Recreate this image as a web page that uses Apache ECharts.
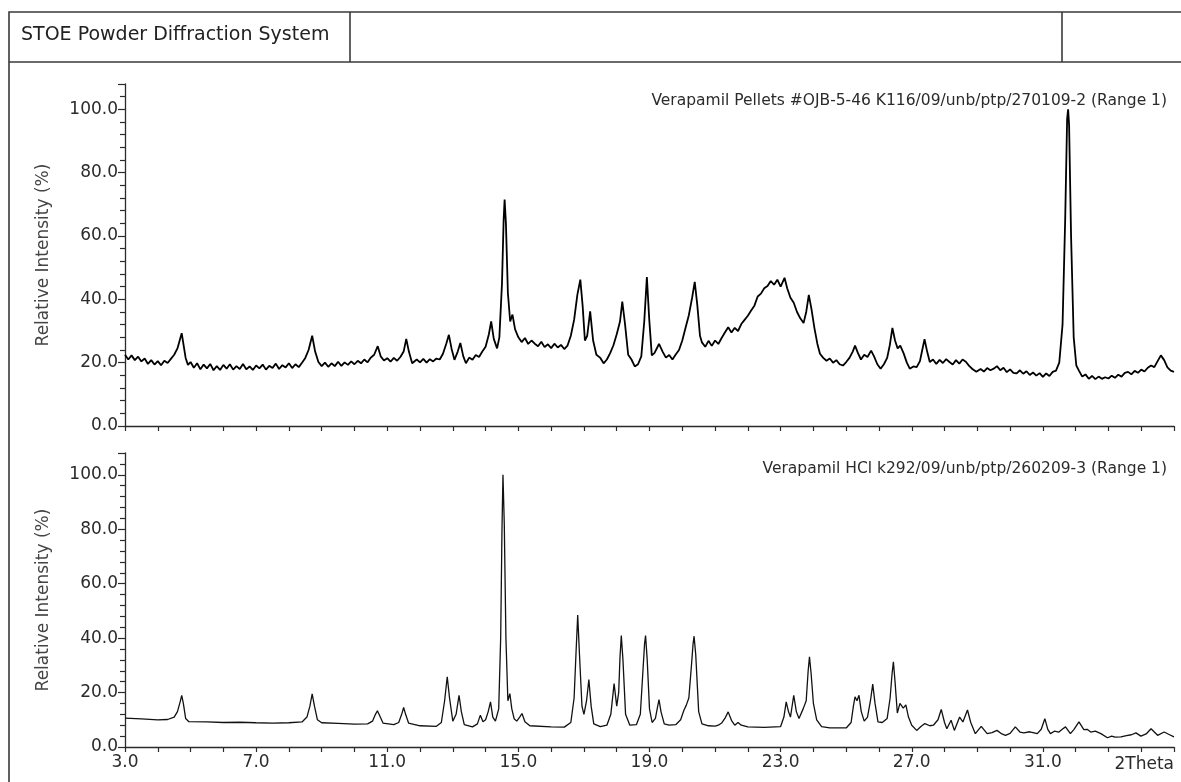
<!DOCTYPE html>
<html>
<head>
<meta charset="utf-8">
<script src="https://cdn.jsdelivr.net/npm/echarts@6/dist/echarts.min.js"></script>
<style>
  html, body { margin: 0; padding: 0; background: #fff; }
  #chart { width: 1181px; height: 782px; }
</style>
</head>
<body>
<div id="chart"></div>
<script>
// scan labels
const headerText = 'STOE Powder Diffraction System';
const pelletsLabel = 'Verapamil Pellets #OJB-5-46 K116/09/unb/ptp/270109-2 (Range 1)';
const hclLabel = 'Verapamil HCl k292/09/unb/ptp/260209-3 (Range 1)';
const yAxisTitle = 'Relative Intensity (%)';

// axis ticks
const xLabelled = [3, 7, 11, 15, 19, 23, 27, 31];
const xEndLabel = '2Theta';
const yLabelled = [0, 20, 40, 60, 80, 100];

// [2theta, relative intensity %] - pellets (top)
const pelletsScan = [
  [3.0,22.5],[3.1,21],[3.2,22.3],[3.3,20.8],[3.4,21.9],[3.5,20.4],[3.6,21.3],[3.7,19.6],[3.8,20.8],[3.9,19.4],
  [4.0,20.5],[4.1,19.2],[4.2,20.6],[4.3,19.9],[4.4,21.2],[4.5,22.5],[4.6,24.5],[4.68,27.5],[4.73,29.3],[4.78,26],
  [4.85,21.5],[4.92,19.3],[5.0,20.2],[5.1,18.4],[5.2,19.8],[5.3,17.9],[5.4,19.4],[5.5,18.2],[5.6,19.6],[5.7,17.6],
  [5.8,18.9],[5.9,17.7],[6.0,19.3],[6.1,18.1],[6.2,19.5],[6.3,17.8],[6.4,18.9],[6.5,18.0],[6.6,19.6],[6.7,17.9],
  [6.8,18.8],[6.9,17.7],[7.0,19.1],[7.1,18.2],[7.2,19.4],[7.3,17.8],[7.4,19.0],[7.5,18.3],[7.6,19.7],[7.7,18.0],
  [7.8,19.2],[7.9,18.5],[8.0,19.8],[8.1,18.3],[8.2,19.5],[8.3,18.6],[8.4,20.0],[8.5,21.5],[8.6,24.0],[8.71,28.5],
  [8.8,23.5],[8.9,20.2],[9.0,18.9],[9.1,20.0],[9.2,18.7],[9.3,19.8],[9.4,18.9],[9.5,20.3],[9.6,19.0],[9.7,20.1],
  [9.8,19.3],[9.9,20.4],[10.0,19.5],[10.1,20.6],[10.2,19.8],[10.3,21.0],[10.4,20.1],[10.5,21.6],[10.6,22.5],[10.71,25.2],
  [10.8,22.0],[10.9,20.7],[11.0,21.4],[11.1,20.3],[11.2,21.5],[11.3,20.6],[11.4,21.8],[11.5,23.5],[11.58,27.5],[11.66,23.5],
  [11.76,19.8],[11.9,21.0],[12.0,20.1],[12.1,21.2],[12.2,20.0],[12.3,21.1],[12.4,20.4],[12.5,21.3],[12.6,21.0],[12.7,22.8],
  [12.8,26.0],[12.88,28.8],[12.96,24.5],[13.05,20.9],[13.15,23.5],[13.23,26.2],[13.32,22.0],[13.4,19.8],[13.5,21.6],[13.6,20.9],
  [13.7,22.4],[13.8,21.8],[13.9,23.5],[14.0,25.0],[14.1,29.0],[14.17,33.0],[14.25,27.5],[14.35,24.5],[14.42,28],[14.5,45],
  [14.55,65],[14.58,71.5],[14.62,64],[14.68,42],[14.75,33],[14.82,35.2],[14.9,30.5],[15.0,28.0],[15.1,26.5],[15.2,27.8],
  [15.3,25.9],[15.4,27.0],[15.5,26.0],[15.6,25.2],[15.7,26.6],[15.8,24.9],[15.9,25.8],[16.0,24.6],[16.1,26.0],[16.2,24.8],
  [16.3,25.6],[16.4,24.3],[16.5,25.4],[16.6,28.5],[16.7,33.5],[16.8,41.5],[16.89,46.2],[16.96,38],[17.03,27],[17.1,28.5],
  [17.19,36.2],[17.28,27],[17.38,22.5],[17.5,21.5],[17.6,19.8],[17.7,21.0],[17.8,23.0],[17.9,25.5],[18.0,29.0],[18.1,33],
  [18.17,39.3],[18.25,32.5],[18.35,22.5],[18.45,21.0],[18.55,18.8],[18.65,19.5],[18.75,22.0],[18.84,33],[18.92,47],[18.99,34],
  [19.07,22.3],[19.15,23.0],[19.29,25.9],[19.4,23.5],[19.5,21.6],[19.6,22.4],[19.7,21.0],[19.8,22.6],[19.9,24.0],[20.0,27.0],
  [20.1,31.0],[20.2,35.0],[20.3,40.5],[20.38,45.5],[20.46,38],[20.54,28.5],[20.6,26.4],[20.7,25.0],[20.8,26.9],[20.9,25.3],
  [21.0,27.0],[21.1,25.9],[21.2,27.8],[21.3,29.5],[21.4,31.2],[21.5,29.5],[21.6,31.0],[21.7,30.0],[21.8,32.2],[21.9,33.5],
  [22.0,34.8],[22.1,36.5],[22.2,38.0],[22.3,40.9],[22.4,41.8],[22.5,43.5],[22.6,44.2],[22.7,45.8],[22.8,44.6],[22.9,46.2],
  [23.0,44.0],[23.12,46.8],[23.2,43.5],[23.3,40.5],[23.4,38.9],[23.5,36.0],[23.6,34.0],[23.7,32.5],[23.78,36],[23.86,41.4],
  [23.94,37],[24.03,31],[24.12,26],[24.2,22.8],[24.3,21.5],[24.4,20.6],[24.5,21.3],[24.6,20.0],[24.7,20.8],[24.8,19.5],
  [24.9,19.1],[25.0,20.2],[25.1,21.5],[25.2,23.5],[25.27,25.4],[25.36,23.0],[25.45,21.0],[25.55,22.5],[25.65,21.8],[25.76,23.8],
  [25.85,22.0],[25.95,19.5],[26.05,18.1],[26.15,19.5],[26.25,21.5],[26.33,25.5],[26.41,31],[26.49,27],[26.57,24.5],[26.65,25.4],
  [26.75,23.0],[26.85,20.0],[26.94,18.1],[27.05,18.8],[27.15,18.6],[27.25,20.5],[27.32,24],[27.39,27.4],[27.47,23.5],[27.55,20.2],
  [27.65,21.0],[27.75,19.6],[27.85,20.9],[27.95,19.9],[28.05,21.1],[28.15,20.2],[28.25,19.4],[28.35,20.8],[28.45,19.7],[28.55,21.0],
  [28.65,20.3],[28.75,19.0],[28.85,18.0],[28.97,17.1],[29.1,18.0],[29.2,17.2],[29.3,18.3],[29.4,17.6],[29.5,18.1],[29.6,18.9],
  [29.7,17.6],[29.8,18.4],[29.9,17.0],[30.0,17.9],[30.1,16.8],[30.2,16.6],[30.3,17.6],[30.4,16.5],[30.5,17.3],[30.6,16.1],
  [30.7,16.9],[30.8,15.9],[30.9,16.7],[31.0,15.5],[31.1,16.6],[31.2,15.8],[31.3,17.1],[31.4,17.5],[31.5,20.0],[31.6,32],
  [31.68,65],[31.74,97],[31.77,100],[31.8,95],[31.86,60],[31.94,28],[32.02,19.1],[32.1,17.5],[32.2,15.6],[32.3,16.3],
  [32.4,14.9],[32.5,15.8],[32.6,14.8],[32.7,15.6],[32.8,14.9],[32.9,15.4],[33.0,15.0],[33.1,15.9],[33.2,15.2],[33.3,16.2],
  [33.4,15.6],[33.5,16.8],[33.6,17.1],[33.7,16.3],[33.8,17.4],[33.9,16.8],[34.0,17.8],[34.1,17.2],[34.2,18.4],[34.3,19.1],
  [34.4,18.6],[34.5,20.5],[34.6,22.3],[34.7,20.8],[34.8,18.5],[34.9,17.5],[35.0,17.1]
];

// [2theta, relative intensity %] - verapamil HCl reference (bottom)
const hclScan = [
  [3.0,10.6],[3.5,10.3],[4.0,10.0],[4.3,10.1],[4.5,11.0],[4.6,13.0],[4.68,16.5],[4.73,19.0],[4.78,16],[4.85,10.5],
  [4.95,9.3],[5.5,9.2],[6.0,9.0],[6.5,9.1],[7.0,8.9],[7.5,8.8],[8.0,8.9],[8.4,9.2],[8.55,11],[8.64,15],
  [8.71,19.5],[8.78,15],[8.87,10],[9.0,8.9],[9.5,8.7],[10.0,8.4],[10.4,8.5],[10.55,9.5],[10.64,12],[10.7,13.3],
  [10.77,11.5],[10.87,8.8],[11.2,8.2],[11.35,9.0],[11.44,12],[11.5,14.5],[11.56,12],[11.65,8.8],[12.0,7.8],[12.5,7.6],
  [12.65,9.0],[12.75,17],[12.83,25.8],[12.9,18],[13.0,9.5],[13.1,12],[13.19,19.0],[13.26,13],[13.35,8.2],[13.6,7.4],
  [13.75,8.5],[13.84,11.7],[13.92,9.3],[14.0,10],[14.08,13],[14.15,16.6],[14.22,11],[14.3,9.5],[14.4,14],[14.46,40],
  [14.5,80],[14.53,100],[14.57,82],[14.62,40],[14.68,17],[14.74,19.6],[14.8,14],[14.87,10.4],[14.95,9.5],[15.04,11],
  [15.11,12.3],[15.2,9.3],[15.35,7.8],[16.0,7.4],[16.4,7.3],[16.6,9],[16.7,18],[16.76,35],[16.81,48.5],[16.86,35],
  [16.94,15],[17.0,12],[17.08,17],[17.15,24.8],[17.22,15],[17.3,8.5],[17.5,7.5],[17.7,8.0],[17.82,12],[17.92,23.3],
  [18.0,15],[18.06,20],[18.1,33],[18.14,40.9],[18.19,32],[18.27,12],[18.4,8.0],[18.6,8.2],[18.72,12],[18.8,28],
  [18.85,38],[18.88,40.9],[18.93,32],[19.0,14],[19.08,9.0],[19.18,10.5],[19.25,15],[19.29,17.4],[19.35,13],[19.45,8.5],
  [19.6,8.0],[19.8,8.2],[19.95,10],[20.05,13.5],[20.12,15.3],[20.2,18],[20.28,30],[20.33,38],[20.36,40.7],[20.41,34],
  [20.5,13],[20.6,8.5],[20.8,7.8],[21.0,7.7],[21.1,8.0],[21.2,8.8],[21.3,10.5],[21.4,12.9],[21.5,9.8],[21.6,8.0],
  [21.7,9.0],[21.8,8.0],[22.0,7.4],[22.5,7.2],[23.0,7.5],[23.1,11],[23.17,16.6],[23.24,13],[23.3,11],[23.4,19],
  [23.48,13],[23.56,10.5],[23.69,14.1],[23.78,17],[23.84,28],[23.88,33.1],[23.93,27],[24.0,16],[24.1,10],[24.25,7.5],
  [24.5,7.0],[25.0,7.0],[25.15,9],[25.22,15],[25.27,18.4],[25.33,17],[25.39,19],[25.46,13],[25.55,9.5],[25.65,11],
  [25.74,17],[25.81,23.1],[25.88,16],[25.97,9.2],[26.1,9.0],[26.25,10.5],[26.34,18],[26.4,27],[26.44,31.3],[26.49,24],
  [26.56,12.5],[26.64,16],[26.74,14.3],[26.82,15.5],[26.9,11],[27.0,8.0],[27.15,6.1],[27.28,7.5],[27.4,8.6],[27.55,7.8],
  [27.66,8.0],[27.8,10],[27.9,13.8],[28.0,9],[28.07,6.7],[28.2,9.8],[28.3,6.1],[28.46,11],[28.56,9.2],[28.7,13.6],
  [28.8,9],[28.94,4.9],[29.12,7.6],[29.3,4.9],[29.45,5.3],[29.6,6.1],[29.75,4.8],[29.86,4.3],[30.0,5.0],[30.16,7.4],
  [30.3,5.5],[30.42,5.2],[30.6,5.6],[30.83,4.9],[30.95,6.5],[31.06,10.4],[31.15,6.5],[31.23,4.9],[31.35,5.8],[31.49,5.5],
  [31.6,6.6],[31.69,7.4],[31.84,4.9],[31.95,6.5],[32.1,9.2],[32.25,6.4],[32.35,6.5],[32.46,5.5],[32.6,5.8],[32.77,4.9],
  [32.97,3.4],[33.1,4.0],[33.2,3.6],[33.38,3.7],[33.55,4.2],[33.7,4.5],[33.84,5.2],[33.99,4.0],[34.15,4.8],[34.3,6.7],
  [34.5,4.3],[34.7,5.5],[34.85,4.6],[35.0,3.7]
];

const ink = '#2b2b2b';
const font = 'DejaVu Sans, Verdana, sans-serif';

const chart = echarts.init(document.getElementById('chart'));

function xAxisFor(gridIndex, withLabels) {
  return {
    type: 'value', gridIndex: gridIndex, min: 3, max: 35, interval: 1,
    axisLine: { lineStyle: { color: ink, width: 1.3 } },
    axisTick: { length: 5, lineStyle: { color: ink, width: 1.2 } },
    splitLine: { show: false },
    axisLabel: {
      show: withLabels, margin: 7, color: ink, fontFamily: font, fontSize: 17,
      formatter: v => xLabelled.includes(v) ? v.toFixed(1) : ''
    },
    name: withLabels ? xEndLabel : '',
    nameLocation: 'end', nameGap: 0,
    nameTextStyle: { color: ink, fontFamily: font, fontSize: 17, align: 'right', verticalAlign: 'top', padding: [9, 0, 0, 0] }
  };
}

function yAxisFor(gridIndex) {
  return {
    type: 'value', gridIndex: gridIndex, min: 0, max: 108, interval: 20,
    axisLine: { show: true, lineStyle: { color: ink, width: 1.3 } },
    axisTick: { show: true, length: 7, lineStyle: { color: ink, width: 1.2 } },
    minorTick: { show: true, splitNumber: 5, length: 5, lineStyle: { color: ink, width: 1.2 } },
    splitLine: { show: false },
    axisLabel: {
      margin: 7, color: ink, fontFamily: font, fontSize: 17,
      formatter: v => yLabelled.includes(v) ? v.toFixed(1) : ''
    },
    name: yAxisTitle, nameLocation: 'middle', nameGap: 73, nameRotate: 90,
    nameTextStyle: { color: '#444', fontFamily: font, fontSize: 17 }
  };
}

chart.setOption({
  animation: false,
  backgroundColor: '#fff',
  title: [
    { text: pelletsLabel, right: 9, top: 88, textStyle: { color: ink, fontFamily: font, fontSize: 15.5, fontWeight: 'normal' } },
    { text: hclLabel, right: 9, top: 456, textStyle: { color: ink, fontFamily: font, fontSize: 15.5, fontWeight: 'normal' } }
  ],
  grid: [
    { left: 125, top: 84, width: 1049, height: 342 },
    { left: 125, top: 453, width: 1049, height: 294 }
  ],
  xAxis: [xAxisFor(0, false), xAxisFor(1, true)],
  yAxis: [yAxisFor(0), yAxisFor(1)],
  series: [
    { type: 'line', xAxisIndex: 0, yAxisIndex: 0, data: pelletsScan, showSymbol: false, symbol: 'none',
      lineStyle: { color: '#000', width: 1.8 } },
    { type: 'line', xAxisIndex: 1, yAxisIndex: 1, data: hclScan, showSymbol: false, symbol: 'none',
      lineStyle: { color: '#111', width: 1.3 } }
  ],
  graphic: [
    { type: 'rect', shape: { x: 9, y: 12, width: 1200, height: 800 }, style: { fill: 'none', stroke: '#3a3a3a', lineWidth: 1.6 } },
    { type: 'line', shape: { x1: 9, y1: 62, x2: 1181, y2: 62 }, style: { stroke: '#3a3a3a', lineWidth: 1.6 } },
    { type: 'line', shape: { x1: 350, y1: 12, x2: 350, y2: 62 }, style: { stroke: '#3a3a3a', lineWidth: 1.6 } },
    { type: 'line', shape: { x1: 1062, y1: 12, x2: 1062, y2: 62 }, style: { stroke: '#3a3a3a', lineWidth: 1.6 } },
    { type: 'text', left: 21, top: 26, style: { text: headerText, fill: '#222', font: '19px ' + font } }
  ]
});
</script>
</body>
</html>
